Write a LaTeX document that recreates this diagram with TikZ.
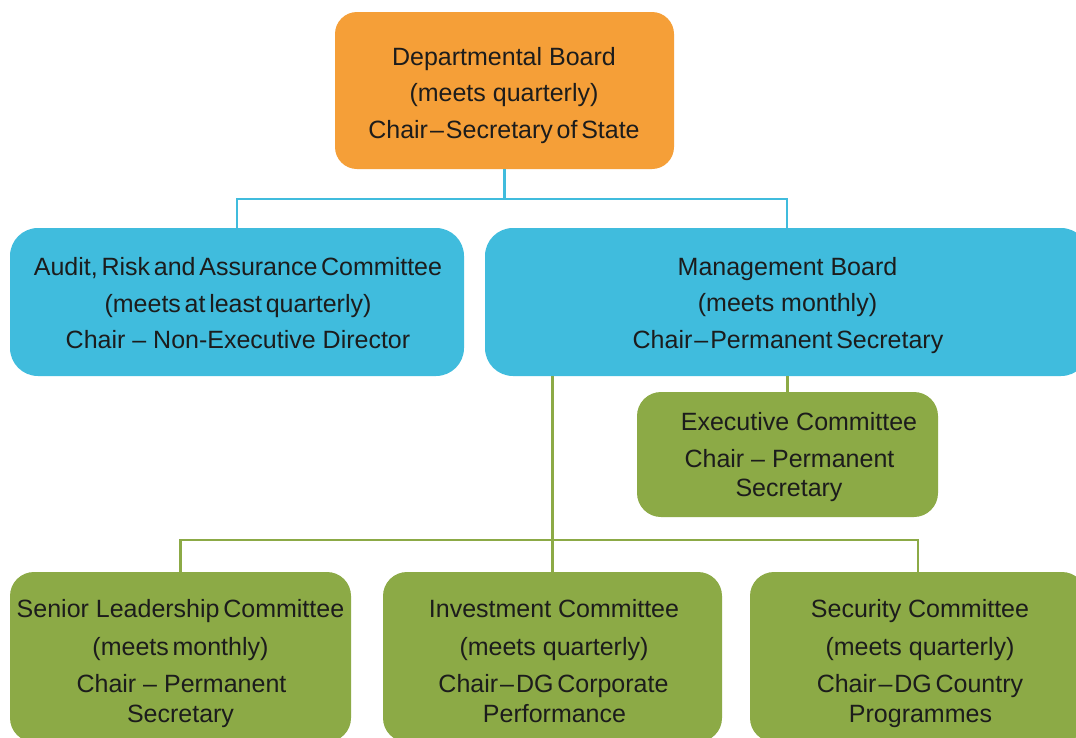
\documentclass[tikz,border=0pt]{standalone}
\usepackage{fontspec}
\setmainfont{Liberation Sans}
\definecolor{boardorange}{RGB}{245,159,56}
\definecolor{boardblue}{RGB}{64,188,221}
\definecolor{boardgreen}{RGB}{140,170,70}
\definecolor{inkdark}{RGB}{28,28,28}
% narrow word gap and tight dash used in several labels
\newcommand\tsp{\hspace{0.15em}}
\newcommand\tdash{\hspace{0.08em}–\hspace{0.08em}}
\tikzset{
  orangebox/.style={fill=boardorange, rounded corners=22pt, inner sep=0pt},
  bluebox/.style={fill=boardblue, rounded corners=28pt, inner sep=0pt},
  greenbox/.style={fill=boardgreen, rounded corners=24pt, inner sep=0pt},
  txt/.style={font=\fontsize{25}{30}\selectfont, text=inkdark, anchor=base, inner sep=0pt},
  blueline/.style={draw=boardblue, line width=2.5pt},
  greenline/.style={draw=boardgreen, line width=2.5pt},
}
\begin{document}
\begin{tikzpicture}[x=1pt, y=-1pt]
\useasboundingbox (0,0) rectangle (1076,737);
\clip (0,0) rectangle (1076,737);
\fill[white] (0,0) rectangle (1076,737);

% boxes
\node[orangebox, minimum width=339pt, minimum height=157pt] (db) at (504.5,90.5) {};
\node[bluebox, minimum width=454pt, minimum height=148pt] (arac) at (237,302) {};
\node[bluebox, minimum width=604pt, minimum height=148pt] (mb) at (787,302) {};
\node[greenbox, minimum width=301pt, minimum height=125pt] (exec) at (787.5,454.5) {};
\node[greenbox, minimum width=341pt, minimum height=170pt] (slc) at (180.5,657) {};
\node[greenbox, minimum width=339pt, minimum height=170pt] (inv) at (552.5,657) {};
\node[greenbox, minimum width=336pt, minimum height=170pt] (sec) at (918,657) {};

% connectors
\draw[blueline] (db.south) -- ++(0,30) coordinate (bluebus);
\draw[blueline] (arac.north) |- (bluebus) -| (mb.north);
\draw[greenline] (exec.north) -- (exec.north |- mb.south);
\draw[greenline] (inv.north) -- (inv.north |- mb.south);
\draw[greenline] (slc.north) -- ++(0,-32) -| (sec.north);

% labels
\node[txt] (db1) at (504,65) {Departmental Board};
\node[txt] (db2) at (504,101) {(meets quarterly)};
\node[txt] (db3) at (504,138) {Chair\tdash Secretary\tsp of\tsp State};

\node[txt] (ar1) at (238,275) {Audit,\tsp Risk\tsp and\tsp Assurance\tsp Committee};
\node[txt] (ar2) at (238,312) {(meets\tsp at\tsp least\tsp quarterly)};
\node[txt] (ar3) at (238,348) {Chair – Non-Executive Director};

\node[txt] (mb1) at (787.5,275) {Management Board};
\node[txt] (mb2) at (787.5,311) {(meets monthly)};
\node[txt] (mb3) at (788,348) {Chair\tdash Permanent\tsp Secretary};

\node[txt] (ex1) at (799,430) {Executive Committee};
\node[txt] (ex2) at (789.5,467) {Chair – Permanent};
\node[txt] (ex3) at (789,496) {Secretary};

\node[txt] (sl1) at (180.5,617) {Senior Leadership\tsp Committee};
\node[txt] (sl2) at (180.5,655) {(meets\tsp monthly)};
\node[txt] (sl3) at (181.5,692) {Chair – Permanent};
\node[txt] (sl4) at (180.5,722) {Secretary};

\node[txt] (iv1) at (554,617) {Investment Committee};
\node[txt] (iv2) at (554,655) {(meets quarterly)};
\node[txt] (iv3) at (553.5,692) {Chair\tdash DG\tsp Corporate};
\node[txt] (iv4) at (554.5,722) {Performance};

\node[txt] (sc1) at (920,617) {Security Committee};
\node[txt] (sc2) at (920,655) {(meets quarterly)};
\node[txt] (sc3) at (920,692) {Chair\tdash DG\tsp Country};
\node[txt] (sc4) at (920.5,722) {Programmes};
\end{tikzpicture}
\end{document}
